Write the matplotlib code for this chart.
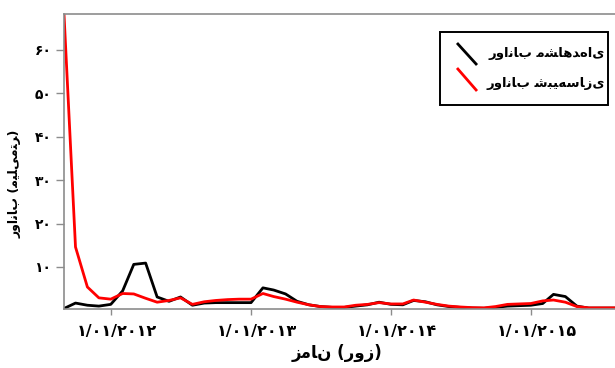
import matplotlib
matplotlib.use("Agg")
import matplotlib.pyplot as plt
import matplotlib.transforms as mtransforms
import pandas as pd
from matplotlib.lines import Line2D
from matplotlib.patches import Rectangle

# ── Datos mensuales de escorrentía (mm) ──────────────────────────────────────
fechas = pd.date_range("2011-09-01", periods=49, freq="MS")

observado = [0.45, 1.7, 1.2, 1.0, 1.4, 4.5, 10.6, 10.9, 3.1, 2.1, 3.1, 1.2,
             1.7, 1.8, 1.8, 1.8, 1.8, 5.2, 4.7, 3.8, 2.1, 1.3, 0.9, 0.7,
             0.7, 1.0, 1.3, 1.9, 1.4, 1.3, 2.3, 2.0, 1.3, 0.9, 0.7, 0.55,
             0.5, 0.7, 1.0, 1.1, 1.2, 1.6, 3.7, 3.2, 1.0, 0.55, 0.55, 0.55,
             0.55]

simulado = [68.2, 14.6, 5.4, 2.9, 2.6, 3.9, 3.8, 2.8, 1.9, 2.3, 2.9, 1.4,
            2.0, 2.3, 2.5, 2.6, 2.6, 3.9, 3.2, 2.6, 1.9, 1.3, 0.9, 0.8,
            0.8, 1.2, 1.4, 1.8, 1.5, 1.5, 2.4, 1.9, 1.4, 1.0, 0.8, 0.65,
            0.6, 0.9, 1.4, 1.5, 1.6, 2.2, 2.4, 1.9, 0.9, 0.6, 0.6, 0.6,
            0.6]

y_ticks = [10, 20, 30, 40, 50, 60]
x_ticks = ["2012-01-01", "2013-01-01", "2014-01-01", "2015-01-01"]
x_tick_labels = ["1/01/2012", "1/01/2013", "1/01/2014", "1/01/2015"]

ZWNJ = "\u200c"
txt_obs = "رواناب مشاهده" + ZWNJ + "ای"
txt_sim = "رواناب شبیه" + ZWNJ + "سازی"
txt_ylab = "رواناب (میلی" + ZWNJ + "متر)"
txt_xlab = "زمان (روز)"

# ── Formas de presentación árabes (el texto se une a mano; el orden RTL lo
#    resuelve el propio renderizado) ─────────────────────────────────────────
# (aislada, final, inicial, medial); None = letra que no une a la izquierda
FORMS = {
    "ا": ("\uFE8D", "\uFE8E", None, None),
    "ب": ("\uFE8F", "\uFE90", "\uFE91", "\uFE92"),
    "ت": ("\uFE95", "\uFE96", "\uFE97", "\uFE98"),
    "د": ("\uFEA9", "\uFEAA", None, None),
    "ر": ("\uFEAD", "\uFEAE", None, None),
    "ز": ("\uFEAF", "\uFEB0", None, None),
    "س": ("\uFEB1", "\uFEB2", "\uFEB3", "\uFEB4"),
    "ش": ("\uFEB5", "\uFEB6", "\uFEB7", "\uFEB8"),
    "ل": ("\uFEDD", "\uFEDE", "\uFEDF", "\uFEE0"),
    "م": ("\uFEE1", "\uFEE2", "\uFEE3", "\uFEE4"),
    "ن": ("\uFEE5", "\uFEE6", "\uFEE7", "\uFEE8"),
    "ه": ("\uFEE9", "\uFEEA", "\uFEEB", "\uFEEC"),
    "و": ("\uFEED", "\uFEEE", None, None),
    "\u06cc": ("\uFEEF", "\uFEF0", "\uFEF3", "\uFEF4"),
    "\u064a": ("\uFEEF", "\uFEF0", "\uFEF3", "\uFEF4"),
}
FA_DIGITS = str.maketrans("0123456789", "۰۱۲۳۴۵۶۷۸۹")


def fa(text):
    out = []
    for i, c in enumerate(text):
        if c == ZWNJ:
            continue
        if c not in FORMS:
            out.append(c)
            continue
        prev = text[i - 1] if i > 0 else ""
        nxt = text[i + 1] if i + 1 < len(text) else ""
        j_prev = prev in FORMS and FORMS[prev][2] is not None
        j_next = FORMS[c][2] is not None and nxt in FORMS
        iso, fin, ini, med = FORMS[c]
        if j_prev and j_next:
            out.append(med)
        elif j_prev:
            out.append(fin)
        elif j_next:
            out.append(ini)
        else:
            out.append(iso)
    return "".join(out)


W, H = 615, 368


def px(x, y):
    # píxeles (origen arriba-izquierda) -> fracción de figura
    return x / W, 1 - y / H


plt.rcParams["font.family"] = ["DejaVu Sans"]
C_SPINE = "#8c8c8c"

fig = plt.figure(figsize=(W / 100, H / 100), dpi=100)
ax = fig.add_axes([64 / W, 1 - 308.5 / H, 560 / W, 294.5 / H])

l_obs, = ax.plot(fechas, observado, color="black", lw=2.0)
l_sim, = ax.plot(fechas, simulado, color="#ff0000", lw=2.0)

ax.set_xlim(fechas[0], fechas[-1])
ax.set_ylim(min(min(observado), min(simulado)), max(max(observado), max(simulado)))

ax.tick_params(axis="y", length=6, width=1, color=C_SPINE, pad=3)
ax.tick_params(axis="x", length=4, width=1, color=C_SPINE, pad=7)
for s in ("left", "top", "bottom"):
    ax.spines[s].set_color(C_SPINE)
    ax.spines[s].set_linewidth(1.2)
ax.spines["right"].set_visible(False)

ax.set_yticks(y_ticks)
ax.set_yticklabels([str(v).translate(FA_DIGITS) for v in y_ticks],
                   fontsize=10, fontweight="bold")
ax.set_xticks(pd.to_datetime(x_ticks))
ax.set_xticklabels([s.translate(FA_DIGITS) for s in x_tick_labels],
                   fontsize=11.5, fontweight="bold")
# etiquetas de fecha algo desplazadas a la derecha de su marca
shift = mtransforms.ScaledTranslation(0.06, 0, fig.dpi_scale_trans)
for lab in ax.xaxis.get_majorticklabels():
    lab.set_transform(lab.get_transform() + shift)

ax.set_xlabel(fa(txt_xlab), fontsize=12, fontweight="bold", labelpad=4)
ax.xaxis.label.set_x(0.487)
ax.set_ylabel(fa(txt_ylab), fontsize=9, fontweight="bold")
ax.yaxis.set_label_coords(-0.076, 0.423)

# ── Leyenda (marco + trazos diagonales) ─────────────────────────────────────
x0, y0 = px(440, 105)
x1, y1 = px(608, 32)
fig.add_artist(Rectangle((x0, y0), x1 - x0, y1 - y0, transform=fig.transFigure,
                         facecolor="white", edgecolor="black", lw=1.4, zorder=5))
entradas = [(l_obs, txt_obs, 43, 65, 54), (l_sim, txt_sim, 68, 91, 83)]
for linea, txt, ya, yb, yt in entradas:
    (xa, ya_f), (xb, yb_f) = px(457, ya), px(477, yb)
    fig.add_artist(Line2D([xa, xb], [ya_f, yb_f], transform=fig.transFigure,
                          color=linea.get_color(), lw=linea.get_linewidth(),
                          solid_capstyle="butt", zorder=6))
    tx, ty = px(605, yt)
    fig.text(tx, ty, fa(txt), ha="right", va="center", fontsize=9.5,
             fontweight="bold", zorder=6)

fig.savefig("out.png", dpi=100, facecolor="white")
